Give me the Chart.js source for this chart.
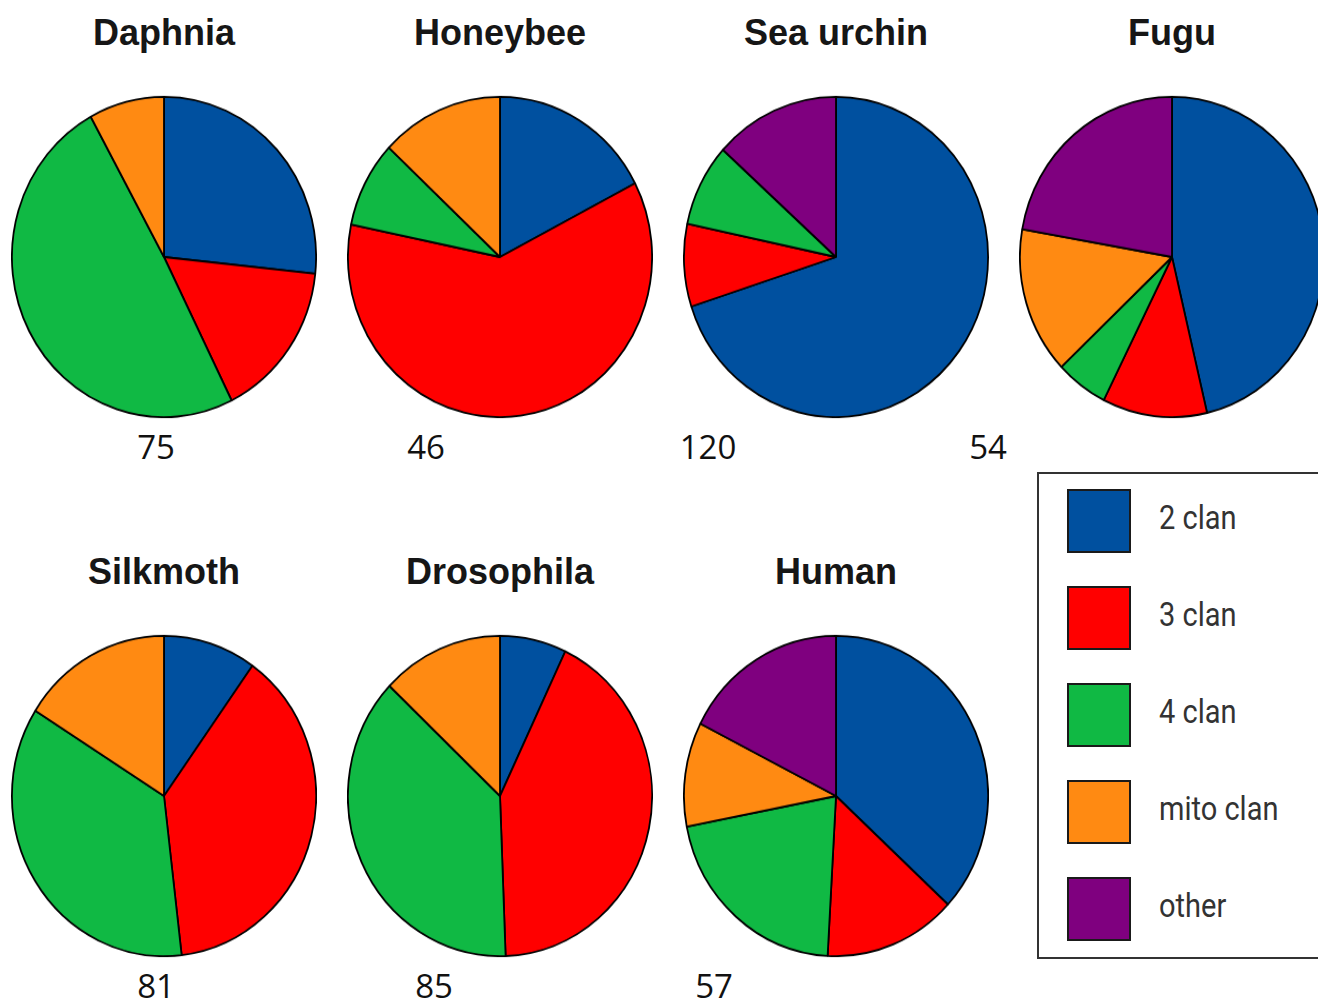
<!DOCTYPE html>
<html>
<head>
<meta charset="utf-8">
<script src="https://cdn.jsdelivr.net/npm/chart.js@4"></script>
<style>
  html, body { margin: 0; padding: 0; background: #fff; }
  body { width: 1318px; height: 1003px; position: relative; overflow: hidden; }
  .pie { position: absolute; width: 306px; height: 306px; transform: scale(1, 1.053); }
  .title { position: absolute; width: 300px; text-align: center; font: bold 36px "Liberation Sans", Arial, sans-serif; line-height: 36px; color: #161616; transform: translateX(-50%); }
  .num { position: absolute; font: 33px "Open Sans", sans-serif; line-height: 33px; color: #111; transform: translateX(-50%); white-space: nowrap; }
  #legend { position: absolute; left: 1037px; top: 472px; width: 300px; height: 483px; border: 2px solid #333; box-sizing: content-box; }
  .key { position: absolute; left: 28px; width: 60px; height: 60px; border: 2px solid #1a1a1a; }
  .lab { position: absolute; left: 120px; font: 29px Roboto, sans-serif; line-height: 29px; color: #333; transform: scaleY(1.15); transform-origin: left bottom; white-space: nowrap; }
</style>
</head>
<body>
<div id="legend"></div>
<script>
// species and total count shown under each pie
const species = ['Daphnia', 'Honeybee', 'Sea urchin', 'Fugu', 'Silkmoth', 'Drosophila', 'Human'];
const totals = [75, 46, 120, 54, 81, 85, 57];

// legend categories
const categories = ['2 clan', '3 clan', '4 clan', 'mito clan', 'other'];

// counts per category, one entry per species
const clan2 = [20, 8, 84, 25, 8, 6, 21];
const clan3 = [12, 28, 10, 6, 31, 36, 8];
const clan4 = [37, 4, 10, 3, 29, 32, 12];
const mito  = [6, 6, 0, 8, 13, 11, 6];
const other = [0, 0, 16, 12, 0, 0, 10];

const colors = ['#00509F', '#FF0000', '#10B944', '#FF8A12', '#7F007F'];

// x of the count label under each pie
const numX = [156, 426, 708, 988, 156, 434, 714];

const charts = [];

species.forEach((name, i) => {
    const col = i < 4 ? i : i - 4;
    const row = i < 4 ? 0 : 1;
    const cx = 164 + 336 * col;
    const cy = 257 + 539 * row;

    const title = document.createElement('div');
    title.className = 'title';
    title.style.left = cx + 'px';
    title.style.top = (15 + 539 * row) + 'px';
    title.innerText = name;
    document.body.appendChild(title);

    const canvas = document.createElement('canvas');
    canvas.className = 'pie';
    canvas.width = 306;
    canvas.height = 306;
    canvas.style.left = (cx - 153) + 'px';
    canvas.style.top = (cy - 153) + 'px';
    document.body.appendChild(canvas);

    const num = document.createElement('div');
    num.className = 'num';
    num.style.left = numX[i] + 'px';
    num.style.top = (430 + 539 * row) + 'px';
    num.innerText = totals[i];
    document.body.appendChild(num);

    charts.push(new Chart(canvas.getContext('2d'), {
        type: 'pie',
        data: {
            labels: categories,
            datasets: [{
                data: [clan2[i], clan3[i], clan4[i], mito[i], other[i]],
                backgroundColor: colors,
                borderColor: '#000',
                borderWidth: 1.8
            }]
        },
        options: {
            responsive: false,
            animation: false,
            layout: { padding: 0 },
            plugins: { legend: { display: false }, tooltip: { enabled: false } }
        }
    }));
});

// legend box
const legend = document.getElementById('legend');
categories.forEach((c, i) => {
    const key = document.createElement('div');
    key.className = 'key';
    key.style.top = (15 + 97 * i) + 'px';
    key.style.background = colors[i];
    legend.appendChild(key);

    const lab = document.createElement('div');
    lab.className = 'lab';
    lab.style.top = (32 + 97 * i) + 'px';
    lab.innerText = c;
    legend.appendChild(lab);
});
</script>
</body>
</html>
